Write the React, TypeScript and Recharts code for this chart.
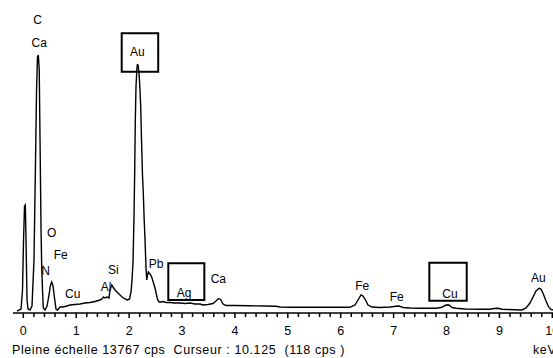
import { LineChart, Line, XAxis, YAxis, ReferenceArea, ReferenceDot } from "recharts";

// spectrum trace: energy (keV) and counts (cps)
const energy = [
  -0.119, -0.043, -0.015, 0.004, 0.023, 0.038, 0.051, 0.07, 0.089, 0.127,
  0.164, 0.202, 0.231, 0.25, 0.268, 0.284, 0.301, 0.316, 0.335, 0.348,
  0.363, 0.378, 0.41, 0.448, 0.486, 0.514, 0.537, 0.561, 0.59, 0.618,
  0.647, 0.694, 0.75, 0.82, 0.883, 0.977, 1.072, 1.166, 1.261, 1.355,
  1.45, 1.488, 1.516, 1.544, 1.582, 1.62, 1.639, 1.671, 1.696, 1.733,
  1.771, 1.809, 1.866, 1.922, 1.97, 2.008, 2.036, 2.055, 2.074, 2.093,
  2.106, 2.117, 2.13, 2.146, 2.157, 2.172, 2.187, 2.206, 2.219, 2.238,
  2.253, 2.268, 2.285, 2.301, 2.319, 2.333, 2.348, 2.363, 2.395, 2.427,
  2.461, 2.49, 2.518, 2.541, 2.565, 2.603, 2.641, 2.698, 2.773, 2.868,
  2.962, 3.057, 3.151, 3.246, 3.34, 3.397, 3.491, 3.586, 3.643, 3.69,
  3.728, 3.775, 3.832, 4.002, 4.285, 4.569, 4.777, 4.853, 5.042, 5.42,
  5.798, 6.176, 6.27, 6.327, 6.384, 6.421, 6.469, 6.516, 6.592, 6.743,
  6.932, 7.045, 7.102, 7.178, 7.31, 7.499, 7.801, 7.896, 7.953, 8.009,
  8.047, 8.104, 8.18, 8.35, 8.633, 8.822, 8.898, 8.974, 9.049, 9.295,
  9.427, 9.503, 9.578, 9.635, 9.692, 9.749, 9.786, 9.83, 9.881, 9.928,
  9.975, 10.013,
];
const counts = [
  90, 184, 1056, 3351, 4911, 4957, 3351, 597, 184, 138,
  321, 2433, 7023, 10236, 11750, 11842, 11154, 7941, 3810, 2111,
  1056, 230, 138, 321, 826, 1285, 1423, 1239, 689, 184,
  138, 275, 275, 321, 367, 390, 413, 459, 482, 528,
  597, 643, 734, 689, 734, 689, 1056, 1285, 1193, 1056,
  964, 872, 734, 643, 597, 643, 964, 1515, 2341, 4498,
  6564, 8859, 10373, 11154, 11429, 11337, 11016, 10236, 9455, 7619,
  6334, 5508, 4269, 3351, 2066, 1515, 1744, 1882, 1790, 1652,
  1377, 1148, 826, 597, 505, 505, 528, 482, 482, 459,
  459, 436, 459, 413, 413, 367, 390, 436, 551, 666,
  620, 413, 344, 344, 330, 321, 308, 275, 266, 266,
  262, 262, 367, 597, 826, 780, 597, 367, 275, 252,
  275, 308, 321, 252, 230, 220, 220, 252, 321, 376,
  367, 252, 216, 184, 174, 170, 207, 216, 170, 147,
  138, 230, 459, 734, 1010, 1134, 1102, 872, 551, 289,
  161, 138,
];

// peak annotations
const peakNames = ["C", "Ca", "Au", "O", "Fe", "N", "Cu", "Al", "Si", "Pb", "Ag", "Ca", "Fe", "Fe", "Cu", "Au"];
const peakKev = [0.272, 0.302, 2.155, 0.537, 0.707, 0.42, 0.934, 1.563, 1.701, 2.509, 3.038, 3.686, 6.408, 7.059, 8.066, 9.735];
const peakCps = [13449, 12379, 11994, 3686, 2662, 1942, 872, 1180, 1974, 2235, 932, 1547, 1239, 748, 872, 1593];

// framed elements: [keV from, keV to, cps low, cps high]
const boxes = [
  [1.86, 2.55, 11076, 12838],
  [2.741, 3.422, 597, 2281],
  [7.675, 8.382, 565, 2309],
];

const fullScale = 13767;
const ticks = Array.from({ length: 51 }, (_, i) => Math.round(i * 2) / 10);

const data = energy.map((e, i) => ({ kev: e, cps: counts[i] }));

const font = "'Liberation Sans', Arial, sans-serif";

const Tick = (props: any) => {
  const { x, y, payload } = props;
  const major = Math.abs(payload.value - Math.round(payload.value)) < 1e-6;
  return (
    <g>
      <line x1={x} x2={x} y1={y} y2={y + (major ? 5 : 4)} stroke="#000" strokeWidth={1.5} />
      {major && (
        <text x={x} y={y + 18} textAnchor="middle" dominantBaseline="central" fontSize={12.5} fontFamily={font} fill="#000">
          {payload.value}
        </text>
      )}
    </g>
  );
};

export default function App() {
  return (
    <div style={{ position: "absolute", left: 0, top: 0, width: 553, height: 358, background: "#fff", overflow: "hidden" }}>
      <LineChart width={553} height={358} data={data} margin={{ top: 13, right: 0, bottom: 0, left: 13 }}>
        <XAxis
          dataKey="kev"
          type="number"
          domain={[-0.195, 10.013]}
          allowDataOverflow
          ticks={ticks}
          interval={0}
          tick={<Tick />}
          tickLine={false}
          tickSize={0}
          tickMargin={0}
          axisLine={{ stroke: "#000", strokeWidth: 1.5 }}
          height={45}
        />
        <YAxis type="number" domain={[0, fullScale]} hide width={0} allowDataOverflow />
        {boxes.map((b, i) => (
          <ReferenceArea
            key={i}
            x1={b[0]}
            x2={b[1]}
            y1={b[2]}
            y2={b[3]}
            fill="none"
            fillOpacity={0}
            stroke="#000"
            strokeWidth={2}
            ifOverflow="visible"
          />
        ))}
        <Line
          type="linear"
          dataKey="cps"
          stroke="#000"
          strokeWidth={1.4}
          dot={false}
          isAnimationActive={false}
        />
        {peakNames.map((n, i) => (
          <ReferenceDot
            key={i}
            x={peakKev[i]}
            y={peakCps[i]}
            r={0}
            ifOverflow="visible"
            shape={(p: any) => (
              <text x={p.cx} y={p.cy} textAnchor="middle" dominantBaseline="central" fontSize={12} fontFamily={font} fill="#000">
                {n}
              </text>
            )}
          />
        ))}
      </LineChart>
      <div style={{ position: "absolute", left: 12, top: 343, fontFamily: font, fontSize: 12.5, letterSpacing: 0.6, whiteSpace: "pre", color: "#000" }}>
        {"Pleine échelle " + fullScale + " cps  Curseur : 10.125  (118 cps )"}
      </div>
      <div style={{ position: "absolute", left: 533, top: 343, fontFamily: font, fontSize: 12.5, letterSpacing: 0.6, whiteSpace: "pre", color: "#000" }}>
        keV
      </div>
    </div>
  );
}
